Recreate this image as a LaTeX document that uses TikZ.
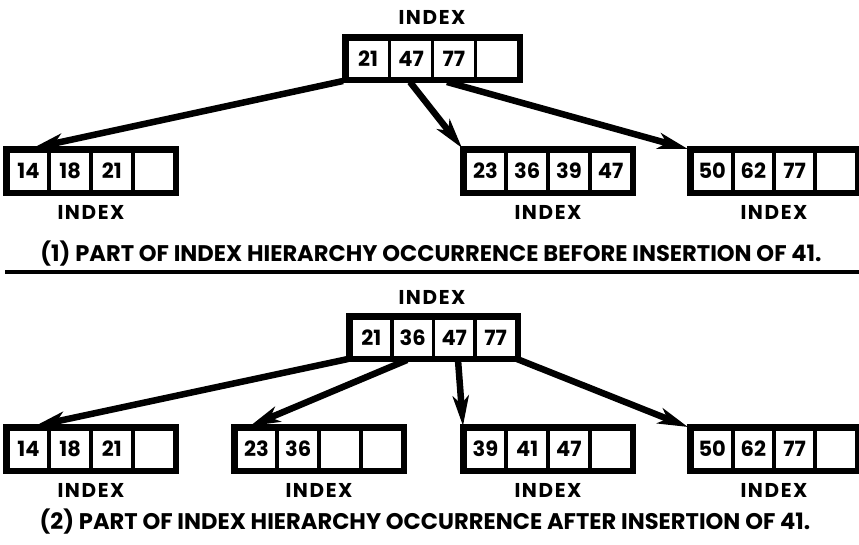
\documentclass[tikz,border=0pt]{standalone}
\usepackage{fontspec}
\setmainfont{Poppins}
\newfontfamily\spacedfont[LetterSpace=8]{Poppins}
\usetikzlibrary{arrows.meta,calc}

\tikzset{
  frame/.style={draw, line width=3.4pt, inner sep=0pt, outer sep=0pt},
  cellbox/.style={draw, line width=2.4pt, inner sep=0pt, outer sep=0pt,
    font=\bfseries\fontsize{21}{21}\selectfont},
  lbl/.style={font=\spacedfont\bfseries\fontsize{20}{20}\selectfont, inner sep=0pt},
  captxt/.style={font=\bfseries\fontsize{22.6}{22.6}\selectfont, inner sep=0pt},
  ptr/.style={line width=6.5pt, -{Stealth[length=30pt,width=16pt,inset=8pt]}},
}

% #1 name, #2 x, #3 y, #4 width, #5 height, #6..#9 cell texts
\newcommand\idxblock[9]{%
  \node[frame, minimum width=#4pt, minimum height=#5pt, anchor=north west] (#1) at (#2,#3) {};
  \pgfmathsetmacro\cw{(#4-6.6-4.2)/4}%
  \pgfmathsetmacro\ch{#5-6.6}%
  \pgfmathsetmacro\xa{#2+3.3}%
  \pgfmathsetmacro\xb{#2+3.3+(\cw+1.4)}%
  \pgfmathsetmacro\xc{#2+3.3+2*(\cw+1.4)}%
  \pgfmathsetmacro\xd{#2+3.3+3*(\cw+1.4)}%
  \pgfmathsetmacro\yy{#3+3.3}%
  \node[cellbox, minimum width=\cw pt, minimum height=\ch pt, anchor=north west] (#1-1) at (\xa,\yy) {#6};
  \node[cellbox, minimum width=\cw pt, minimum height=\ch pt, anchor=north west] (#1-2) at (\xb,\yy) {#7};
  \node[cellbox, minimum width=\cw pt, minimum height=\ch pt, anchor=north west] (#1-3) at (\xc,\yy) {#8};
  \node[cellbox, minimum width=\cw pt, minimum height=\ch pt, anchor=north west] (#1-4) at (\xd,\yy) {#9};
}

\begin{document}
\begin{tikzpicture}[x=1pt,y=-1pt]
\useasboundingbox (0,0) rectangle (859,544);

% ---------- part (1) ----------
\node[lbl] (t1) at (432,17) {INDEX};
\idxblock{r1}{344}{36}{177}{45}{21}{47}{77}{}
\idxblock{a1}{5}{148}{172}{46}{14}{18}{21}{}
\idxblock{a2}{462}{148}{172}{46}{23}{36}{39}{47}
\idxblock{a3}{689}{148}{170}{46}{50}{62}{77}{}
\node[lbl] (la1) at ($(a1.south)+(0,18)$) {INDEX};
\node[lbl] (la2) at ($(a2.south)+(0,18)$) {INDEX};
\node[lbl] (la3) at ($(a3.south)+(0,18)$) {INDEX};

\coordinate (s11) at (343,81);
\coordinate (s12) at (410,82);
\coordinate (s13) at (447,82);
\coordinate (e11) at (33,148);
\coordinate (e12) at (462,148);
\coordinate (e13) at (688,149);
\draw[ptr] (s11) -- (e11);
\draw[ptr] (s12) -- (e12);
\draw[ptr] (s13) -- (e13);

\node[captxt] (c1) at (431,254) {(1) PART OF INDEX HIERARCHY OCCURRENCE BEFORE INSERTION OF 41.};

\coordinate (rl) at (5,272);
\coordinate (rr) at (859,272);
\draw[line width=3.5pt] (rl) -- (rr);

% ---------- part (2) ----------
\node[lbl] (t2) at (432,297) {INDEX};
\idxblock{r2}{348}{315}{171}{45}{21}{36}{47}{77}
\idxblock{b1}{5}{426}{172}{46}{14}{18}{21}{}
\idxblock{b2}{233}{426}{172}{46}{23}{36}{}{}
\idxblock{b3}{462}{426}{172}{46}{39}{41}{47}{}
\idxblock{b4}{689}{426}{170}{46}{50}{62}{77}{}
\node[lbl] (lb1) at ($(b1.south)+(0,18)$) {INDEX};
\node[lbl] (lb2) at ($(b2.south)+(0,18)$) {INDEX};
\node[lbl] (lb3) at ($(b3.south)+(0,18)$) {INDEX};
\node[lbl] (lb4) at ($(b4.south)+(0,18)$) {INDEX};

\coordinate (s21) at (348,359);
\coordinate (s22) at (407,360);
\coordinate (s23) at (458,360);
\coordinate (s24) at (517,359);
\coordinate (e21) at (35,426);
\coordinate (e22) at (250,426);
\coordinate (e23) at (463,426);
\coordinate (e24) at (688,427);
\draw[ptr] (s21) -- (e21);
\draw[ptr] (s22) -- (e22);
\draw[ptr] (s23) -- (e23);
\draw[ptr] (s24) -- (e24);

\node[captxt] (c2) at (425,522) {(2) PART OF INDEX HIERARCHY OCCURRENCE AFTER INSERTION OF 41.};
\end{tikzpicture}
\end{document}
